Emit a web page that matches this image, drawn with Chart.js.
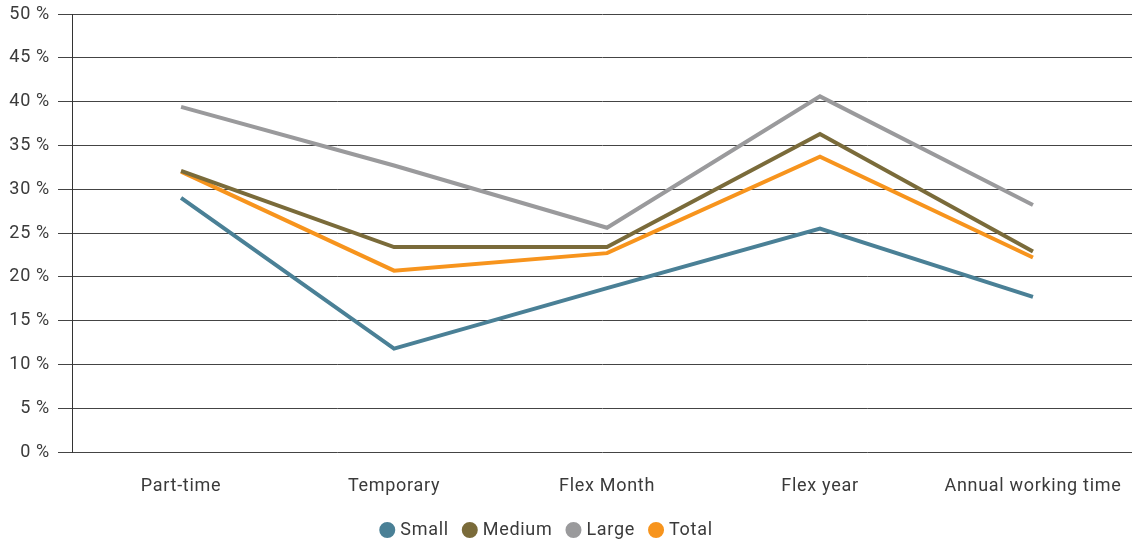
<!DOCTYPE html>
<html>
<head>
<meta charset="utf-8">
<script src="https://cdn.jsdelivr.net/npm/chart.js@4"></script>
<style>
  html, body { margin: 0; padding: 0; background: #fff; }
  #wrap { width: 1137px; height: 540px; position: relative; }
</style>
</head>
<body>
<div id="wrap"><canvas id="c"></canvas></div>
<script>
// Working-time models by company size (share of companies, %)
const categories = ['Part-time', 'Temporary', 'Flex Month', 'Flex year', 'Annual working time'];
const small  = [29.0, 11.8, 18.7, 25.5, 17.7];
const medium = [32.1, 23.4, 23.4, 36.3, 22.9];
const large  = [39.4, 32.7, 25.6, 40.6, 28.2];
const total  = [32.0, 20.7, 22.7, 33.7, 22.2];
const yTicks = [0, 5, 10, 15, 20, 25, 30, 35, 40, 45, 50];

const FONT = 'Roboto';
const TEXT = '#3a3a3a';
const GRID = '#444444';

const toPoints = arr => arr.map((v, i) => ({ x: i, y: v }));

const series = [
  { label: 'Small',  data: small,  color: '#4a8096' },
  { label: 'Medium', data: medium, color: '#7a6b3a' },
  { label: 'Large',  data: large,  color: '#9a9a9c' },
  { label: 'Total',  data: total,  color: '#f7941d' }
];

// Slightly wider tracking for all canvas text
const tracking = {
  id: 'tracking',
  beforeLayout: chart => { chart.ctx.letterSpacing = '0.7px'; },
  beforeDraw: chart => { chart.ctx.letterSpacing = '0.7px'; }
};

// Nudge the legend row a little to the left of the canvas centre
const legendShift = {
  id: 'legendShift',
  afterLayout: chart => {
    const lg = chart.legend;
    if (lg) { lg.left -= 18; lg.right -= 18; }
  }
};

new Chart(document.getElementById('c'), {
  type: 'line',
  data: {
    datasets: series.map(s => ({
      label: s.label,
      data: toPoints(s.data),
      borderColor: s.color,
      backgroundColor: s.color,
      borderWidth: 4,
      pointRadius: 0,
      pointHoverRadius: 0,
      tension: 0,
      fill: false
    }))
  },
  plugins: [tracking, legendShift],
  options: {
    responsive: true,
    maintainAspectRatio: false,
    animation: false,
    events: [],
    layout: { padding: { top: 14, right: 5, bottom: -9, left: 0 } },
    plugins: {
      tooltip: { enabled: false },
      legend: {
        position: 'bottom',
        labels: {
          usePointStyle: true,
          pointStyle: 'circle',
          boxWidth: 8,
          boxHeight: 8.5,
          padding: 17,
          color: TEXT,
          font: { family: FONT, size: 18 }
        }
      }
    },
    scales: {
      x: {
        type: 'linear',
        min: -0.512,
        max: 4.465,
        afterBuildTicks: scale => {
          scale.ticks = categories.map((_, i) => ({ value: i }));
        },
        afterFit: scale => {
          scale.height = 52;
          scale.paddingLeft = 0;
          scale.paddingRight = 0;
        },
        ticks: {
          autoSkip: false,
          maxRotation: 0,
          padding: 24,
          color: TEXT,
          font: { family: FONT, size: 18 },
          callback: v => categories[v]
        },
        grid: { display: false, drawTicks: false },
        border: { display: false }
      },
      y: {
        min: 0,
        max: 50,
        afterBuildTicks: scale => {
          scale.ticks = yTicks.map(v => ({ value: v }));
        },
        afterFit: scale => {
          scale.width = 72;
          scale.paddingTop = 0;
          scale.paddingBottom = 0;
        },
        ticks: {
          padding: 8,
          color: TEXT,
          font: { family: FONT, size: 18 },
          callback: v => v + ' %'
        },
        grid: {
          color: GRID,
          lineWidth: 1,
          tickLength: 14,
          tickColor: GRID
        },
        border: { display: true, color: '#333', width: 1 }
      }
    }
  }
});
</script>
</body>
</html>
